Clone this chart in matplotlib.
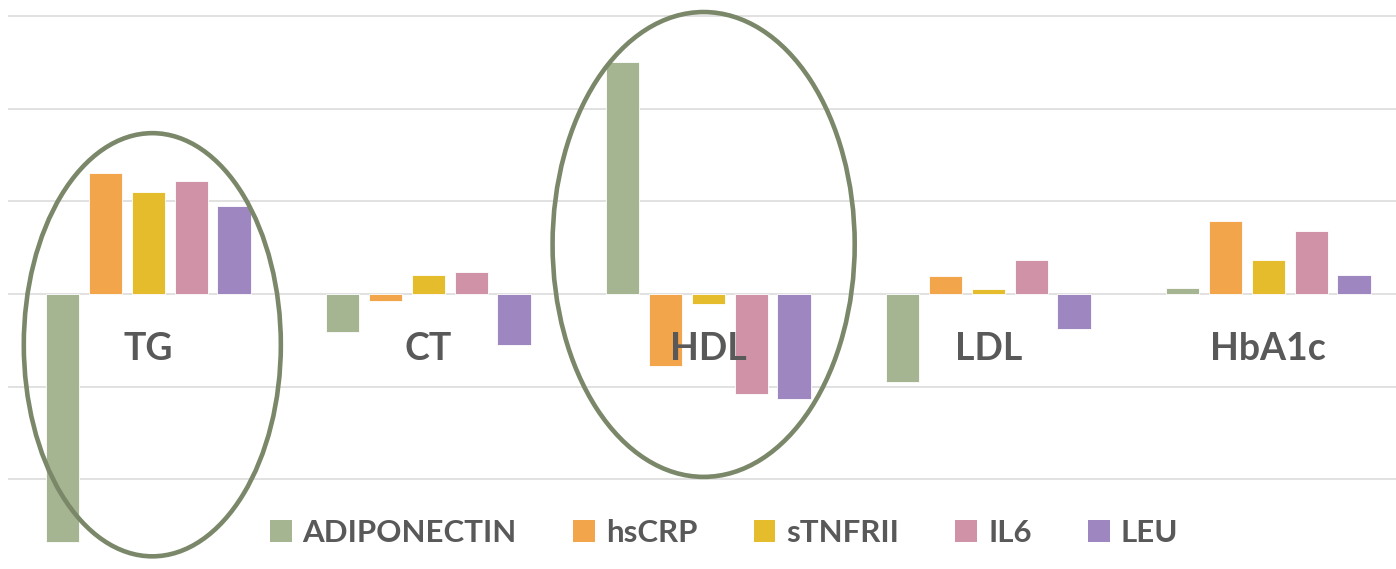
import matplotlib
matplotlib.use("Agg")
import matplotlib.pyplot as plt
from matplotlib.patches import Ellipse, Patch
import numpy as np

# data (one grid step = 1 unit)
categories = ["TG", "CT", "HDL", "LDL", "HbA1c"]
series = ["ADIPONECTIN", "hsCRP", "sTNFRII", "IL6", "LEU"]
adiponectin = [-2.68, -0.41, 2.51, -0.95, 0.07]
hscrp = [1.31, -0.08, -0.78, 0.19, 0.79]
stnfrii = [1.10, 0.21, -0.11, 0.05, 0.37]
il6 = [1.22, 0.24, -1.08, 0.37, 0.68]
leu = [0.95, -0.55, -1.13, -0.38, 0.20]
colors = ["#a6b591", "#f2a54a", "#e5bc2b", "#d092a6", "#9e86c1"]

values = [adiponectin, hscrp, stnfrii, il6, leu]

plt.rcParams["font.family"] = ["Lato", "DejaVu Sans"]

W, H = 1396, 569
fig = plt.figure(figsize=(W / 100, H / 100), dpi=100)
left_px = 8.4
group_px = 280.0
unit_px = 92.6
zero_px = 294.0
ax = fig.add_axes([left_px / W, 0, 1 - left_px / W, 1])
ax.set_xlim(-0.5, -0.5 + (W - left_px) / group_px)
ax.set_ylim((zero_px - H) / unit_px, zero_px / unit_px)

x = np.arange(len(categories))
step = 0.153
width = 0.119
for i, (name, vals, c) in enumerate(zip(series, values, colors)):
    ax.bar(x + (i - 2) * step, vals, width, color=c, edgecolor="white",
           linewidth=0.6, zorder=2, label=name)

ax.set_yticks(np.arange(-2, 4))
ax.grid(axis="y", color="#d9d9d9", linewidth=1.1, zorder=0)
ax.set_axisbelow(True)
ax.tick_params(left=False, bottom=False, labelleft=False, labelbottom=False)
for s in ax.spines.values():
    s.set_visible(False)

for xi, cat in zip(x, categories):
    ax.text(xi, -0.59, cat, ha="center", va="center", fontsize=27,
            fontweight="bold", color="#595959", zorder=4)

# highlight ellipses around TG and HDL
ell_col = "#7a8769"
ax.add_patch(Ellipse((x[0] + 0.014, -0.548), 0.918, 4.57, fill=False,
                     edgecolor=ell_col, linewidth=3.3, zorder=5))
ax.add_patch(Ellipse((x[2] - 0.017, 0.535), 1.079, 5.02, fill=False,
                     edgecolor=ell_col, linewidth=3.3, zorder=5))

handles = [Patch(facecolor=c, label=n) for n, c in zip(series, colors)]
leg = fig.legend(handles=handles, loc="center", ncol=5, frameon=False,
                 bbox_to_anchor=(724 / W, 1 - 533 / H),
                 handlelength=0.7, handleheight=0.7, handletextpad=0.35,
                 columnspacing=1.8, prop={"weight": "bold", "size": 22.5})
for t in leg.get_texts():
    t.set_color("#595959")

fig.savefig("out.png", dpi=100)
